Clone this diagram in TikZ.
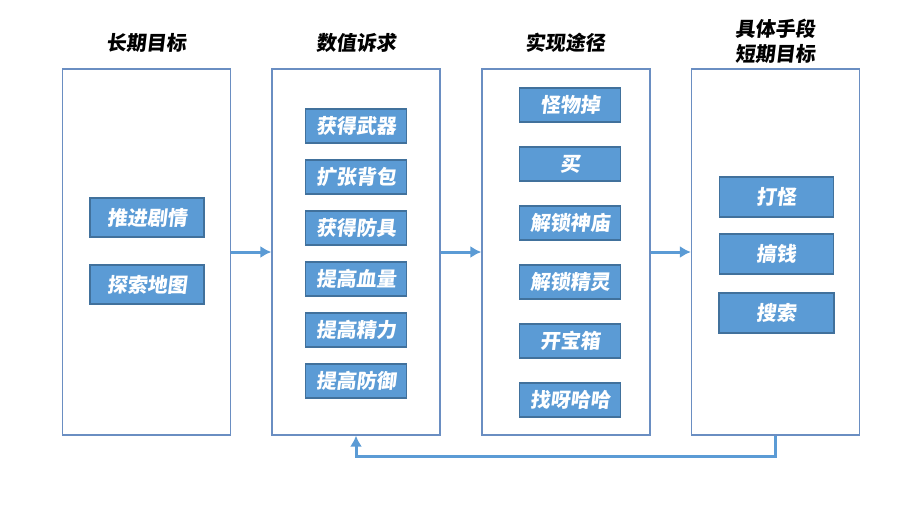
\documentclass[tikz,border=0pt]{standalone}
\usepackage{fontspec}
\usepackage{tikz}
\usetikzlibrary{positioning,arrows.meta}
\newfontfamily\cjk{Noto Sans CJK SC}[FakeSlant=0.12]

\definecolor{boxline}{HTML}{6A8EC2}
\definecolor{itemfill}{HTML}{5B9BD5}
\definecolor{itemline}{HTML}{41719C}

\begin{document}
\begin{tikzpicture}[x=0.5pt, y=-0.5pt, font=\cjk\bfseries\fontsize{10pt}{12pt}\selectfont]
                % Define styles
                \tikzstyle{box_column} = [rectangle, draw=boxline, line width=0.6pt, fill=white, minimum width=84pt, minimum height=183pt, inner sep=0pt]
                \tikzstyle{box_head} = [text=black, align=center, inner sep=0pt]
                \tikzstyle{box_item} = [rectangle, draw=itemline, line width=0.6pt, fill=itemfill, text=white, minimum width=50.5pt, minimum height=17pt, inner sep=0pt]
                \tikzstyle{box_item_wide} = [box_item, minimum width=57pt, minimum height=19.5pt]
                \tikzstyle{line} = [draw=itemfill, line width=1.5pt, -{Latex[length=5.5pt,width=6pt]}]

                \useasboundingbox (0,0) rectangle (900,505);

                % Columns
                \node [box_column] (goals) at (146.5,252) {};
                \node [box_column] (values) at (356,252) {};
                \node [box_column] (ways) at (566,252) {};
                \node [box_column] (means) at (775.5,252) {};

                % Headers
                \node [box_head] (goals_head) at (146.5,43) {长期目标};
                \node [box_head] (values_head) at (356,43) {数值诉求};
                \node [box_head] (ways_head) at (565,43) {实现途径};
                \node [box_head] (means_head) at (775,41) {具体手段\\[0.5pt]短期目标};

                % Long term goals
                \node [box_item_wide] (goals_story) at (147,217.5) {推进剧情};
                \node [box_item_wide, below of=goals_story, node distance=33.5pt] (goals_map) {探索地图};

                % Values
                \node [box_item] (values_weapon) at (356,126) {获得武器};
                \node [box_item, below of=values_weapon, node distance=25.5pt] (values_bag) {扩张背包};
                \node [box_item, below of=values_bag, node distance=25.5pt] (values_armor) {获得防具};
                \node [box_item, below of=values_armor, node distance=25.5pt] (values_hp) {提高血量};
                \node [box_item, below of=values_hp, node distance=25.5pt] (values_stamina) {提高精力};
                \node [box_item, below of=values_stamina, node distance=25.5pt] (values_defense) {提高防御};

                % Ways
                \node [box_item] (ways_drop) at (570,105) {怪物掉};
                \node [box_item, below of=ways_drop, node distance=29.5pt] (ways_buy) {买};
                \node [box_item, below of=ways_buy, node distance=29.5pt] (ways_shrine) {解锁神庙};
                \node [box_item, below of=ways_shrine, node distance=29.5pt] (ways_spirit) {解锁精灵};
                \node [box_item, below of=ways_spirit, node distance=29.5pt] (ways_chest) {开宝箱};
                \node [box_item, below of=ways_chest, node distance=29.5pt] (ways_korok) {找呀哈哈};

                % Means
                \node [box_item_wide, minimum height=20pt] (means_fight) at (776.5,197) {打怪};
                \node [box_item_wide, minimum height=20pt, below of=means_fight, node distance=28.5pt] (means_money) {搞钱};
                \node [box_item_wide, minimum height=20pt, minimum width=57.5pt, below of=means_money, node distance=29.5pt] (means_search) {搜索};

                % Lines
                \path [line] (goals) -- (values);
                \path [line] (values) -- (ways);
                \path [line] (ways) -- (means);
                \path [line] (means.south) -- ++(0,21) -| (values.south);
            \end{tikzpicture}
\end{document}
